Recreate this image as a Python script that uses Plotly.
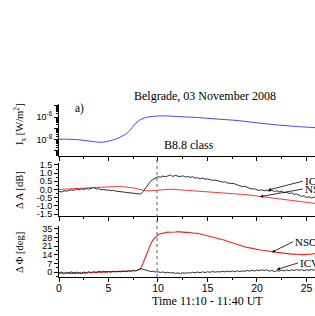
import numpy as np
import plotly.graph_objects as go

# ---------------- data ----------------
flux_t = [0, 1, 2, 3, 4, 4.5, 5, 5.7, 6.3, 6.85, 7.4, 7.9, 8.4, 8.9, 9.5, 10.5,
          12, 14, 16, 18, 20, 22, 24, 26]
flux_v = [1.05e-8, 1.05e-8, 0.95e-8, 0.74e-8, 0.58e-8, 0.58e-8, 0.72e-8, 1.05e-8,
          1.85e-8, 3.5e-8, 1.17e-7, 3.8e-7, 6.9e-7, 9.4e-7, 1.15e-6, 1.27e-6,
          1.1e-6, 0.9e-6, 6.6e-7, 4.9e-7, 3.05e-7, 2.0e-7, 1.43e-7, 1.12e-7]

t_fine = np.arange(0, 26.001, 0.25)
t_half = np.arange(0, 26.001, 0.5)

dA_icv = [-0.12, -0.15, -0.08, -0.10, -0.05,
          -0.02, -0.06, 0.03, -0.01,
          0.04, 0.00, 0.06, 0.02,
          0.08, 0.12, 0.03, 0.05,
          -0.02, 0.01, -0.04, -0.03,
          -0.07, -0.05, -0.10, -0.12,
          -0.14, -0.18, -0.16, -0.22,
          -0.20, -0.26, -0.24, -0.30,
          -0.28, -0.12, 0.10, 0.30,
          0.50, 0.62, 0.72, 0.78,
          0.75, 0.82, 0.78, 0.85,
          0.88, 0.80, 0.86, 0.82,
          0.79, 0.84, 0.76, 0.80,
          0.74, 0.78, 0.70, 0.72,
          0.66, 0.70, 0.63, 0.65,
          0.60, 0.56, 0.58, 0.52,
          0.50, 0.45, 0.47, 0.40,
          0.38, 0.33, 0.35, 0.28,
          0.25, 0.18, 0.20, 0.12,
          0.08, 0.03, 0.05, -0.02,
          -0.06, -0.02, -0.08, -0.04,
          -0.10, -0.05, -0.12, -0.08,
          -0.15, -0.10, -0.20, -0.16,
          -0.25, -0.20, -0.30, -0.27,
          -0.36, -0.42, -0.38, -0.50,
          -0.44, -0.52, -0.46, -0.50]

dA_nso = [0.00, 0.01, 0.02, 0.04, 0.06, 0.08, 0.10, 0.12, 0.14, 0.16, 0.17, 0.18,
          0.18, 0.17, 0.15, 0.10, 0.03, -0.05, -0.09, -0.07, -0.03, 0.00, 0.01,
          0.01, -0.01, -0.03, -0.05, -0.07, -0.09, -0.11, -0.13, -0.15, -0.17,
          -0.19, -0.21, -0.24, -0.26, -0.29, -0.32, -0.36, -0.40, -0.44, -0.48,
          -0.52, -0.56, -0.60, -0.64, -0.68, -0.72, -0.76, -0.80, -0.83, -0.86]

dP_nso = [-1.0, -0.6, -1.2, -0.8, -1.0,
          -0.7, -1.1, -0.9, -0.6,
          -0.9, -0.5, -0.8, -0.4,
          -0.6, -0.2, -0.4, 0.1,
          -0.1, 0.3, 0.1, 0.5,
          0.3, 0.6, 0.4, 0.7,
          0.5, 0.9, 0.7, 1.0,
          0.9, 1.3, 1.2, 1.8,
          3.0, 7.5, 13.0, 18.0,
          22.5, 26.0, 28.5, 30.2,
          31.0, 31.6, 31.9, 32.3,
          32.2, 32.6, 32.4, 32.7,
          32.3, 32.5, 32.1, 32.2,
          31.8, 31.9, 31.4, 31.3,
          30.8, 30.6, 30.1, 29.8,
          29.2, 28.8, 28.1, 27.6,
          27.0, 26.3, 25.8, 25.0,
          24.3, 23.6, 22.9, 22.2,
          21.6, 21.0, 20.6, 20.0,
          19.6, 19.1, 18.8, 18.4,
          18.1, 17.7, 17.5, 17.1,
          16.9, 16.5, 16.4, 16.0,
          15.8, 15.5, 15.4, 15.0,
          14.8, 14.6, 14.7, 14.3,
          14.5, 14.2, 14.6, 14.4,
          14.7, 14.5, 15.0, 14.8]

dP_icv = [-0.5, 0.2, -0.8, 0.0, -0.4,
          0.3, -0.6, 0.1, -0.3,
          -0.7, 0.2, -0.4, 0.4,
          -0.2, 0.5, 0.0, 0.7,
          0.2, 0.8, 0.3, 0.6,
          0.1, 0.9, 0.4, 0.7,
          0.3, 1.0, 0.5, 1.2,
          0.8, 1.5, 1.1, 2.0,
          2.8, 2.4, 1.8, 1.2,
          0.6, 0.9, 0.2, 0.4,
          -0.2, 0.3, -0.5, 0.0,
          -0.6, -0.2, -0.9, -0.5,
          -1.0, -0.4, -0.8, -0.3,
          -0.7, 0.0, -0.5, 0.2,
          -0.3, 0.3, -0.2, 0.4,
          0.0, 0.6, 0.1, 0.5,
          0.2, 0.8, 0.3, 0.9,
          0.4, 1.0, 0.5, 1.2,
          0.6, 1.1, 0.7, 1.4,
          0.9, 1.6, 1.0, 1.8,
          1.2, 2.0, 1.4, 2.1,
          0.8, 1.5, 0.6, 1.3,
          0.9, 1.7, 1.1, 1.9,
          1.2, 2.0, 1.4, 2.2,
          1.5, 2.1, 1.3, 2.0,
          1.6, 2.3, 1.7, 2.1]

flare_time = 9.9
flare_peak = 1.2e-6
x_ticks = [0, 5, 10, 15, 20, 25]
a_ticks = [-1.5, -1.0, -0.5, 0.0, 0.5, 1.0, 1.5]
p_ticks = [0, 7, 14, 21, 28, 35]

# ---------------- styling ----------------
SERIF = "Liberation Serif"
SANS = "Liberation Sans"
BLUE = "rgb(70,70,255)"
RED = "rgb(255,30,30)"
BLACK = "rgb(25,25,25)"

W, H = 315, 316
def py(pix):
    return (H - pix) / H

dom1 = [py(156), py(104)]
dom2 = [py(216), py(163)]
dom3 = [py(277), py(226)]
XR = [0, 25.86]

fig = go.Figure()
fig.add_trace(go.Scatter(x=flux_t, y=flux_v, mode="lines", line=dict(color=BLUE, width=1, shape="spline"),
                         xaxis="x", yaxis="y", showlegend=False))
fig.add_trace(go.Scatter(x=t_half, y=dA_nso, mode="lines", line=dict(color=RED, width=0.9),
                         xaxis="x2", yaxis="y2", showlegend=False))
fig.add_trace(go.Scatter(x=t_fine, y=dA_icv, mode="lines", line=dict(color=BLACK, width=0.9),
                         xaxis="x2", yaxis="y2", showlegend=False))
fig.add_trace(go.Scatter(x=t_fine, y=dP_nso, mode="lines", line=dict(color=RED, width=1.1),
                         xaxis="x3", yaxis="y3", showlegend=False))
fig.add_trace(go.Scatter(x=t_fine, y=dP_icv, mode="lines", line=dict(color=BLACK, width=0.9),
                         xaxis="x3", yaxis="y3", showlegend=False))

xcommon = dict(range=XR, domain=[0, 1], showline=True, linecolor="black", linewidth=1,
               ticks="outside", ticklen=4, tickcolor="black", tickvals=x_ticks,
               minor=dict(dtick=2.5, tick0=0, ticks="outside", ticklen=2, tickcolor="black"),
               showgrid=False, zeroline=False, automargin=False,
               tickfont=dict(family=SANS, size=10.5, color="black"))
ycommon = dict(showline=True, linecolor="black", linewidth=1, ticks="outside", ticklen=4,
               tickcolor="black", showgrid=False, zeroline=False, automargin=False,
               tickfont=dict(family=SANS, size=9, color="black"))

minor_log = [k * 10.0 ** e for e in range(-10, -4) for k in range(2, 10)]

fig.update_layout(
    width=W, height=H, margin=dict(l=59, r=0, t=0, b=0, autoexpand=False),
    paper_bgcolor="white", plot_bgcolor="white",
    xaxis=dict(xcommon, anchor="y", showticklabels=False),
    xaxis2=dict(xcommon, anchor="y2", showticklabels=False),
    xaxis3=dict(xcommon, anchor="y3", showticklabels=True, ticktext=[str(v) for v in x_ticks],
                ticklabelstandoff=-3),
    yaxis=dict(ycommon, type="log", domain=dom1, anchor="x", range=[-9.47, -4.84],
               tickvals=[1e-9, 1e-8, 1e-7, 1e-6, 1e-5],
               ticktext=["", "10<sup>-8</sup>", "", "10<sup>-6</sup>", ""],
               minor=dict(tickvals=minor_log, ticks="outside", ticklen=2, tickcolor="black")),
    yaxis2=dict(ycommon, domain=dom2, anchor="x2", range=[-1.62, 1.62], tickvals=a_ticks,
                ticktext=[f"{v:.1f}" for v in a_ticks],
                minor=dict(dtick=0.25, tick0=0, ticks="outside", ticklen=2, tickcolor="black")),
    yaxis3=dict(ycommon, domain=dom3, anchor="x3", range=[-3.8, 37.2], tickvals=p_ticks,
                minor=dict(dtick=3.5, tick0=0, ticks="outside", ticklen=2, tickcolor="black")),
)

# flare marker (dotted vertical line)
fig.add_shape(type="line", xref="x", yref="y", x0=flare_time, x1=flare_time,
              y0=-9.47, y1=np.log10(flare_peak), line=dict(color="rgb(90,90,90)", width=1, dash="dot"))
fig.add_shape(type="line", xref="x", yref="paper", x0=flare_time, x1=flare_time,
              y0=dom3[0], y1=dom1[0], line=dict(color="rgb(90,90,90)", width=1, dash="dot"))

def px_x(pix):
    return (pix - 59) / 256.0

ann = []
ann.append(dict(text="Belgrade, 03 November 2008", x=14.75, xref="x", y=py(96), yref="paper",
                yanchor="middle", showarrow=False, font=dict(family=SERIF, size=12, color="black")))
ann.append(dict(text="a)", x=2.1, xref="x", y=py(109), yref="paper", yanchor="middle", showarrow=False,
                font=dict(family=SERIF, size=11.5, color="black")))
ann.append(dict(text="B8.8 class", x=10.4, xref="x", xanchor="left", y=py(145), yref="paper",
                yanchor="middle", showarrow=False, font=dict(family=SERIF, size=12, color="black")))
ann.append(dict(text="Time 11:10 - 11:40 UT", x=15, xref="x", y=py(300.5), yref="paper",
                yanchor="middle", showarrow=False, font=dict(family=SERIF, size=12, color="black")))
# y axis titles
ann.append(dict(text="I<sub>x</sub> [W/m<sup>2</sup>]", textangle=-90, x=px_x(20), xref="paper",
                y=py(125), yref="paper", xanchor="center", yanchor="middle", showarrow=False,
                font=dict(family=SERIF, size=10.5, color="black")))
ann.append(dict(text="Δ A [dB]", textangle=-90, x=px_x(19), xref="paper", xanchor="center",
                y=py(190), yref="paper", yanchor="middle", showarrow=False,
                font=dict(family=SERIF, size=10.5, color="black")))
ann.append(dict(text="Δ Φ [deg]", textangle=-90, x=px_x(19), xref="paper", xanchor="center",
                y=py(253), yref="paper", yanchor="middle", showarrow=False,
                font=dict(family=SERIF, size=10.5, color="black")))

arrow_style = dict(showarrow=True, arrowhead=2, arrowsize=0.8, arrowwidth=0.8, arrowcolor="black",
                   xanchor="left", yanchor="middle", font=dict(family=SERIF, size=11, color="black"))
ann.append(dict(arrow_style, text="ICV", x=21.1, y=-0.04, xref="x2", yref="y2", ax=35, ay=-9))
ann.append(dict(arrow_style, text="NSO", x=20.3, y=-0.44, xref="x2", yref="y2", ax=43, ay=-7.7))
ann.append(dict(arrow_style, text="NSO", x=21.5, y=16.1, xref="x3", yref="y3", ax=21.3, ay=-10.6))
ann.append(dict(arrow_style, text="ICV", x=22.0, y=2.2, xref="x3", yref="y3", ax=21.3, ay=-6.6))
fig.update_layout(annotations=ann)

fig.write_html("out.html", config={"displayModeBar": False},
               post_script="document.body.style.margin='0px';document.body.style.overflow='hidden';")
